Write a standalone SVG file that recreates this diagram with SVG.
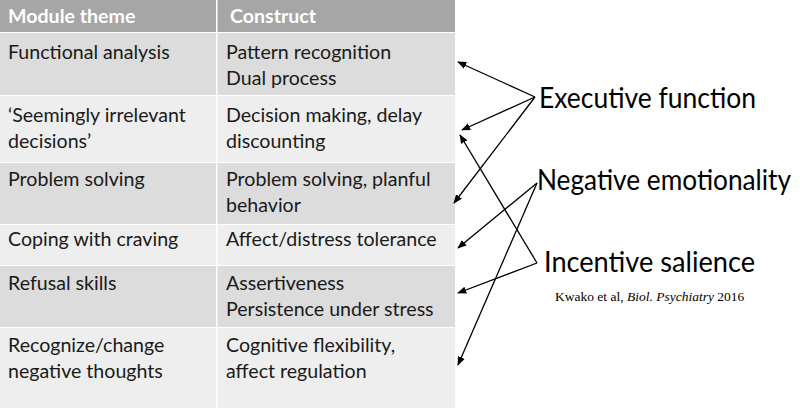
<svg xmlns="http://www.w3.org/2000/svg" width="800" height="408" viewBox="0 0 800 408">
<style>
.c{font-family:Lato,"Open Sans",sans-serif;font-size:19.6px;fill:#1a1a1a}
.h{font-family:Lato,"Open Sans",sans-serif;font-size:19.6px;font-weight:bold;fill:#fff}
.b{font-family:Lato,"Open Sans",sans-serif;font-size:28px;fill:#000}
.d{fill:#dcdcdc}.l{fill:#eeeeee}
line{stroke:#000;stroke-width:1.3;marker-end:url(#a)}
</style>
<defs><marker id="a" viewBox="0 0 10 10" refX="9" refY="5" markerWidth="7" markerHeight="7" orient="auto"><path d="M0,1 L10,5 L0,9 z" fill="#000"/></marker></defs>
<rect width="800" height="408" fill="#fff"/>
<g id="table">
<rect x="0" y="0" width="455" height="32" fill="#a6a6a6"/>
<rect class="d" x="0" y="33" width="455" height="62"/>
<rect class="l" x="0" y="96" width="455" height="66"/>
<rect class="d" x="0" y="163" width="455" height="61"/>
<rect class="l" x="0" y="225" width="455" height="40"/>
<rect class="d" x="0" y="266" width="455" height="61"/>
<rect class="l" x="0" y="328" width="455" height="80"/>
<rect x="216" y="0" width="1.5" height="408" fill="#fff"/>
<text class="h" x="8" y="23">Module theme</text><text class="h" x="230" y="23">Construct</text>
<text class="c" x="8" y="59">Functional analysis</text>
<text class="c" x="226" y="59">Pattern recognition</text><text class="c" x="226" y="85">Dual process</text>
<text class="c" x="8" y="122">‘Seemingly irrelevant</text><text class="c" x="8" y="148">decisions’</text>
<text class="c" x="226" y="122">Decision making, delay</text><text class="c" x="226" y="148">discounting</text>
<text class="c" x="8" y="186">Problem solving</text>
<text class="c" x="226" y="186">Problem solving, planful</text><text class="c" x="226" y="212">behavior</text>
<text class="c" x="8" y="246">Coping with craving</text><text class="c" x="226" y="246">Affect/distress tolerance</text>
<text class="c" x="8" y="290">Refusal skills</text>
<text class="c" x="226" y="290">Assertiveness</text><text class="c" x="226" y="316">Persistence under stress</text>
<text class="c" x="8" y="352">Recognize/change</text><text class="c" x="8" y="378">negative thoughts</text>
<text class="c" x="226" y="352">Cognitive flexibility,</text><text class="c" x="226" y="378">affect regulation</text>
</g>
<g id="labels">
<text class="b" x="539" y="108" textLength="217" lengthAdjust="spacingAndGlyphs">Executive function</text>
<text class="b" x="537" y="190" textLength="254" lengthAdjust="spacingAndGlyphs">Negative emotionality</text>
<text class="b" x="544" y="272" textLength="211" lengthAdjust="spacingAndGlyphs">Incentive salience</text>
<text x="555" y="301" font-family="Liberation Serif,serif" font-size="13.5">Kwako et al, <tspan font-style="italic">Biol. Psychiatry</tspan> 2016</text>
</g>
<g id="connectors">
<line x1="535" y1="97" x2="458" y2="62"/>
<line x1="535" y1="97" x2="462" y2="130"/>
<line x1="535" y1="97" x2="454" y2="203"/>
<line x1="537" y1="183" x2="458" y2="248"/>
<line x1="537" y1="183" x2="458" y2="365"/>
<line x1="537" y1="263" x2="460" y2="135"/>
<line x1="537" y1="263" x2="458" y2="293"/>
</g>
</svg>
